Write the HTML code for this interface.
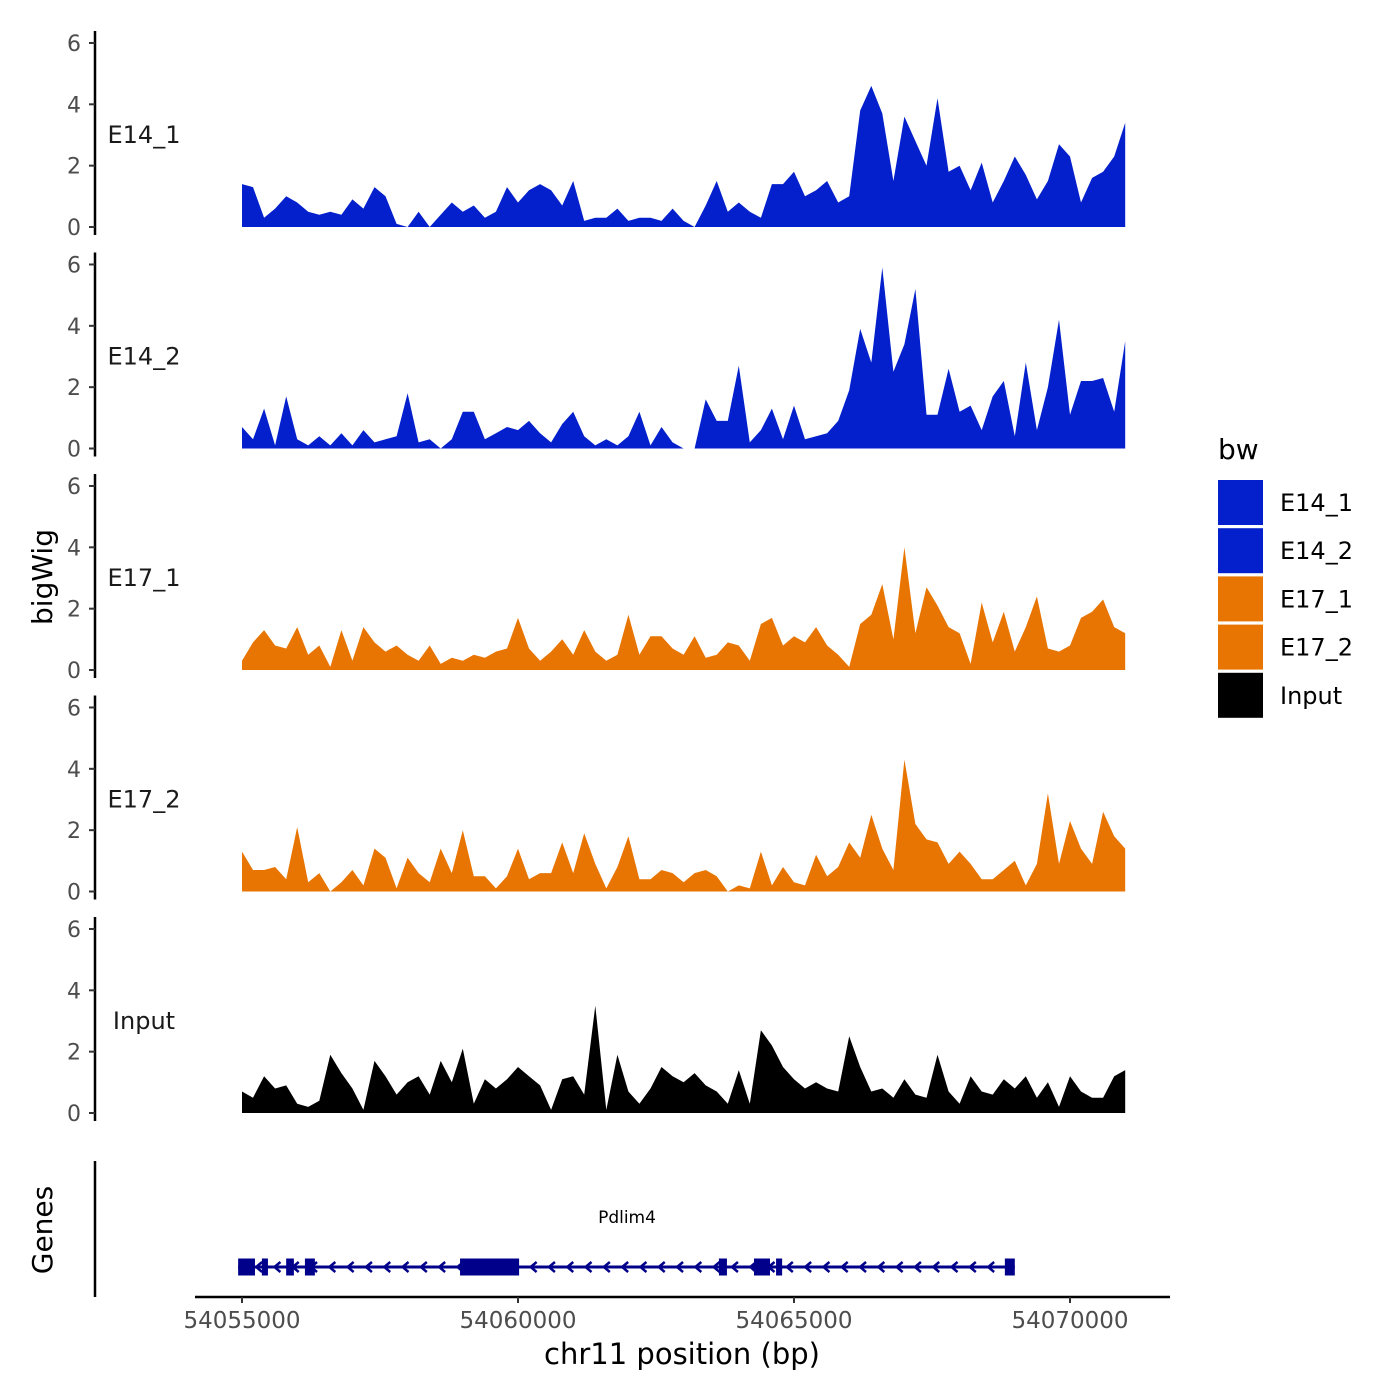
<!DOCTYPE html>
<html><head><meta charset="utf-8"><style>
html,body{margin:0;padding:0;background:#fff}
svg{display:block;font-family:"DejaVu Sans","Liberation Sans",sans-serif}
</style></head><body>
<svg id="chart" width="1400" height="1400" viewBox="0 0 1400 1400">
<rect width="1400" height="1400" fill="#fff"/>
<g id="tracks"></g>
<g id="genes"></g>
<g id="xaxis"></g>
<text x="52" y="577" font-size="28" text-anchor="middle" transform="rotate(-90 52 577)">bigWig</text>
<text x="52" y="1230" font-size="28" text-anchor="middle" transform="rotate(-90 52 1230)">Genes</text>
<text x="682" y="1364" font-size="29" text-anchor="middle">chr11 position (bp)</text>
<g id="legend"></g>
</svg>
<script>
const trackNames = ["E14_1","E14_2","E17_1","E17_2","Input"];
const trackColors = ["#0320CC","#0320CC","#E87502","#E87502","#000000"];
const posStart = 54055000;
const posStep = 200;
const yTicks = [0,2,4,6];
const xTicks = [54055000,54060000,54065000,54070000];
const xTickLabels = ["54055000","54060000","54065000","54070000"];
const e14_1 = [1.4,1.3,0.3,0.6,1.0,0.8,0.5,0.4,0.5,0.4,0.9,0.6,1.3,1.0,0.1,0,0.5,0,0.4,0.8,0.5,0.7,0.3,0.5,1.3,0.8,1.2,1.4,1.2,0.7,1.5,0.2,0.3,0.3,0.6,0.2,0.3,0.3,0.2,0.6,0.2,0,0.7,1.5,0.5,0.8,0.5,0.3,1.4,1.4,1.8,1.0,1.2,1.5,0.8,1.0,3.8,4.6,3.7,1.5,3.6,2.8,2.0,4.2,1.8,2.0,1.2,2.1,0.8,1.5,2.3,1.7,0.9,1.5,2.7,2.3,0.8,1.6,1.8,2.3,3.4];
const e14_2 = [0.7,0.3,1.3,0.1,1.7,0.3,0.1,0.4,0.1,0.5,0.1,0.6,0.2,0.3,0.4,1.8,0.2,0.3,0,0.3,1.2,1.2,0.3,0.5,0.7,0.6,0.9,0.5,0.2,0.8,1.2,0.4,0.1,0.3,0.1,0.4,1.2,0.1,0.7,0.2,0,0,1.6,0.9,0.9,2.7,0.2,0.6,1.3,0.3,1.4,0.3,0.4,0.5,0.9,1.9,3.9,2.8,5.9,2.5,3.4,5.2,1.1,1.1,2.6,1.2,1.4,0.6,1.7,2.2,0.4,2.8,0.6,2.0,4.2,1.1,2.2,2.2,2.3,1.2,3.5];
const e17_1 = [0.3,0.9,1.3,0.8,0.7,1.4,0.5,0.8,0.1,1.3,0.3,1.4,0.9,0.6,0.8,0.5,0.3,0.8,0.2,0.4,0.3,0.5,0.4,0.6,0.7,1.7,0.7,0.3,0.6,1.0,0.5,1.3,0.6,0.3,0.5,1.8,0.5,1.1,1.1,0.7,0.5,1.1,0.4,0.5,0.9,0.8,0.3,1.5,1.7,0.8,1.1,0.9,1.4,0.8,0.5,0.1,1.5,1.8,2.8,1.0,4.0,1.2,2.7,2.1,1.4,1.2,0.2,2.2,0.9,1.9,0.6,1.4,2.4,0.7,0.6,0.8,1.7,1.9,2.3,1.4,1.2];
const e17_2 = [1.3,0.7,0.7,0.8,0.4,2.1,0.3,0.6,0,0.3,0.7,0.2,1.4,1.1,0.1,1.1,0.6,0.3,1.4,0.6,2.0,0.5,0.5,0.1,0.5,1.4,0.4,0.6,0.6,1.6,0.6,1.9,0.9,0.1,0.8,1.8,0.4,0.4,0.7,0.6,0.3,0.6,0.7,0.5,0,0.2,0.1,1.3,0.2,0.8,0.3,0.2,1.2,0.5,0.8,1.6,1.1,2.5,1.4,0.7,4.3,2.2,1.7,1.6,0.9,1.3,0.9,0.4,0.4,0.7,1.0,0.2,0.9,3.2,0.9,2.3,1.4,0.9,2.6,1.8,1.4];
const inputVals = [0.7,0.5,1.2,0.8,0.9,0.3,0.2,0.4,1.9,1.3,0.8,0.1,1.7,1.2,0.6,1.0,1.2,0.6,1.7,1.0,2.1,0.3,1.1,0.8,1.1,1.5,1.2,0.9,0.1,1.1,1.2,0.6,3.5,0.1,1.9,0.7,0.3,0.8,1.5,1.2,1.0,1.3,0.9,0.7,0.3,1.4,0.3,2.7,2.2,1.5,1.1,0.8,1.0,0.8,0.7,2.5,1.5,0.7,0.8,0.5,1.1,0.6,0.5,1.9,0.7,0.3,1.2,0.7,0.6,1.1,0.8,1.2,0.5,1.0,0.2,1.2,0.7,0.5,0.5,1.2,1.4];
const trackValues = [e14_1,e14_2,e17_1,e17_2,inputVals];
const exonStarts = [54054930,54055360,54055800,54056140,54058950,54063640,54064275,54064675,54068820];
const exonEnds = [54055235,54055470,54055940,54056320,54060020,54063785,54064565,54064785,54069000];
const geneStart = 54054930, geneEnd = 54069000;

const NS="http://www.w3.org/2000/svg";
function mk(tag,attrs,parent){const e=document.createElementNS(NS,tag);for(const k in attrs)e.setAttribute(k,attrs[k]);parent.appendChild(e);return e;}
function xScale(p){return 242+(p-54055000)*828/15000;}
function yScale(t,v){return 227+t*221.5-v*30.67;}

const tracks=document.getElementById('tracks');
trackNames.forEach((name,t)=>{
  const g=mk('g',{},tracks);
  
  
  const top=31+t*221.5, bot=235+t*221.5;
  const ax=mk('line',{x1:95,x2:95,y1:top,y2:bot,stroke:'#000','stroke-width':2.5},g);
  
  
  yTicks.forEach(v=>{
    const y=yScale(t,v);
    mk('line',{x1:89,x2:95,y1:y,y2:y,stroke:'#333','stroke-width':2},g);
    const tx=mk('text',{x:81,y:y+8,'font-size':22,fill:'#4d4d4d','text-anchor':'end'},g);
    tx.textContent=v;
    
    
  });
  const lb=mk('text',{x:144,y:143+t*221.5,'font-size':24,'text-anchor':'middle',fill:'#1a1a1a'},g);
  lb.textContent=name;
  
  
  const vals=trackValues[t];
  let d='M'+xScale(posStart)+','+yScale(t,0);
  vals.forEach((v,i)=>{d+='L'+xScale(posStart+i*posStep).toFixed(1)+','+yScale(t,v).toFixed(1);});
  d+='L'+xScale(posStart+(vals.length-1)*posStep).toFixed(1)+','+yScale(t,0)+'Z';
  const a=mk('path',{d:d,fill:trackColors[t]},g);
  
  
});

const genes=document.getElementById('genes');
const gax=mk('line',{x1:95,x2:95,y1:1161,y2:1297,stroke:'#000','stroke-width':2.5},genes);


const gy=1267, gc='#00008B';
const gl=mk('line',{x1:xScale(geneStart),x2:xScale(geneEnd),y1:gy,y2:gy,stroke:gc,'stroke-width':3},genes);


for(let x=xScale(geneStart)+20;x<xScale(geneEnd)-5;x+=18.3){
  const ar=mk('path',{d:`M${x+4},${gy-5}L${x-2},${gy}L${x+4},${gy+5}`,fill:'none',stroke:gc,'stroke-width':2.5},genes);
  
  
}
exonStarts.forEach((s,i)=>{
  const r=mk('rect',{x:xScale(s),y:gy-8.5,width:xScale(exonEnds[i])-xScale(s),height:17,fill:gc},genes);
  
  
});
const gn=mk('text',{x:627,y:1223,'font-size':17,'text-anchor':'middle'},genes);
gn.textContent='Pdlim4';



const xa=document.getElementById('xaxis');
const xl=mk('line',{x1:195,x2:1170,y1:1297,y2:1297,stroke:'#000','stroke-width':2.5},xa);


xTicks.forEach((p,i)=>{
  const x=xScale(p);
  mk('line',{x1:x,x2:x,y1:1297,y2:1303,stroke:'#333','stroke-width':2},xa);
  const t=mk('text',{x:x,y:1328,'font-size':23,fill:'#4d4d4d','text-anchor':'middle'},xa);
  t.textContent=xTickLabels[i];
  
  
});

const lg=document.getElementById('legend');
const lt=mk('text',{x:1218,y:459,'font-size':28},lg);
lt.textContent='bw';


trackNames.forEach((n,i)=>{
  const y=480+i*48.2;
  const r=mk('rect',{x:1218,y:y,width:45,height:45,fill:trackColors[i]},lg);
  
  
  const t=mk('text',{x:1280,y:y+31,'font-size':24},lg);
  t.textContent=n;
  
  
});
</script>
</body></html>
